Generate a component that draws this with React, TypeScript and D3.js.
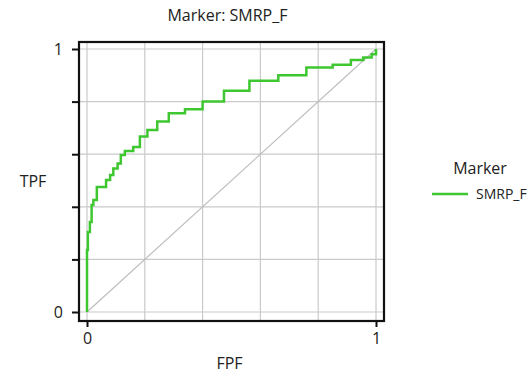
import React, { useEffect, useRef } from "react";
import * as d3 from "d3";

// ROC points (step corners)
const fpf = [
  0, 0.003, 0.01, 0.016, 0.022, 0.034, 0.066, 0.08, 0.091, 0.106, 0.117, 0.131,
  0.16, 0.183, 0.209, 0.243, 0.283, 0.339, 0.4, 0.474, 0.562, 0.662, 0.759,
  0.85, 0.913, 0.956, 0.985, 1.0, 1.0,
];
const tpf = [
  0, 0.236, 0.304, 0.342, 0.407, 0.426, 0.475, 0.502, 0.521, 0.546, 0.565, 0.597,
  0.612, 0.627, 0.667, 0.692, 0.724, 0.756, 0.771, 0.8, 0.841, 0.879, 0.9,
  0.93, 0.94, 0.958, 0.968, 0.98, 1.0,
];
const gridTicks = [0, 0.2, 0.4, 0.6, 0.8, 1];
const labelTicks = [0, 1];
const markerName = "SMRP_F";

const width = 532;
const height = 377;
const panel = { left: 79, top: 42, right: 384, bottom: 321 };
const green = "#3fc732";
const font = "'Open Sans', sans-serif";

const App = () => {
  const ref = useRef<SVGSVGElement>(null);

  const x = d3.scaleLinear().domain([0, 1]).range([87, 376]);
  const y = d3.scaleLinear().domain([0, 1]).range([312, 49]);

  useEffect(() => {
    const svg = d3.select(ref.current);
    svg.selectAll("*").remove();

    const g = svg.append("g");

    // grid
    g.selectAll(".vg")
      .data(gridTicks)
      .join("line")
      .attr("x1", (d) => x(d))
      .attr("x2", (d) => x(d))
      .attr("y1", panel.top)
      .attr("y2", panel.bottom)
      .attr("stroke", "#cacaca")
      .attr("stroke-width", 1.2);
    g.selectAll(".hg")
      .data(gridTicks)
      .join("line")
      .attr("x1", panel.left)
      .attr("x2", panel.right)
      .attr("y1", (d) => y(d))
      .attr("y2", (d) => y(d))
      .attr("stroke", "#cacaca")
      .attr("stroke-width", 1.2);

    // reference diagonal
    g.append("line")
      .attr("x1", x(0))
      .attr("y1", y(0))
      .attr("x2", x(1))
      .attr("y2", y(1))
      .attr("stroke", "#bdbdbd")
      .attr("stroke-width", 1.2);

    // ROC curve
    const pts = fpf.map((f, i) => [f, tpf[i]] as [number, number]);
    const line = d3
      .line<[number, number]>()
      .x((d) => x(d[0]))
      .y((d) => y(d[1]))
      .curve(d3.curveStepBefore);
    g.append("path")
      .attr("d", line(pts))
      .attr("fill", "none")
      .attr("stroke", green)
      .attr("stroke-width", 2.5);

    // frame
    g.append("rect")
      .attr("x", panel.left)
      .attr("y", panel.top)
      .attr("width", panel.right - panel.left)
      .attr("height", panel.bottom - panel.top)
      .attr("fill", "none")
      .attr("stroke", "#111")
      .attr("stroke-width", 2.2);

    // y axis
    const yAxis = d3
      .axisLeft(y)
      .tickValues(gridTicks)
      .tickSize(7)
      .tickPadding(9)
      .tickFormat((d) => (labelTicks.includes(+d) ? d3.format("d")(+d) : ""));
    const ya = g
      .append("g")
      .attr("transform", `translate(${panel.left},0)`)
      .call(yAxis);
    ya.select(".domain").remove();
    ya.selectAll("line").attr("stroke", "#111").attr("stroke-width", 2);
    ya.selectAll("text")
      .attr("font-family", font)
      .attr("font-size", 16)
      .attr("fill", "#222");

    // x axis
    const xAxis = d3
      .axisBottom(x)
      .tickValues(labelTicks)
      .tickSize(6)
      .tickPadding(6)
      .tickFormat(d3.format("d"));
    const xa = g
      .append("g")
      .attr("transform", `translate(0,${panel.bottom})`)
      .call(xAxis);
    xa.select(".domain").remove();
    xa.selectAll("line").attr("stroke", "#111").attr("stroke-width", 2);
    xa.selectAll("text")
      .attr("font-family", font)
      .attr("font-size", 16)
      .attr("fill", "#222");

    // titles
    const txt = (tx: number, ty: number, s: string, size = 16, anchor = "middle") =>
      svg
        .append("text")
        .attr("x", tx)
        .attr("y", ty)
        .attr("text-anchor", anchor)
        .attr("font-family", font)
        .attr("font-size", size)
        .attr("fill", "#222")
        .text(s);
    txt((panel.left + panel.right) / 2 - 4, 21, `Marker: ${markerName}`);
    txt((panel.left + panel.right) / 2 - 2, 369, "FPF");
    txt(33, 187, "TPF");

    // legend
    txt(480, 174, "Marker");
    svg
      .append("line")
      .attr("x1", 432)
      .attr("x2", 468)
      .attr("y1", 194)
      .attr("y2", 194)
      .attr("stroke", green)
      .attr("stroke-width", 2.5);
    txt(476, 199, markerName, 14, "start");
  }, []);

  return (
    <svg
      ref={ref}
      width={width}
      height={height}
      style={{ position: "absolute", left: 0, top: 0, background: "#fff" }}
    />
  );
};

export default App;
